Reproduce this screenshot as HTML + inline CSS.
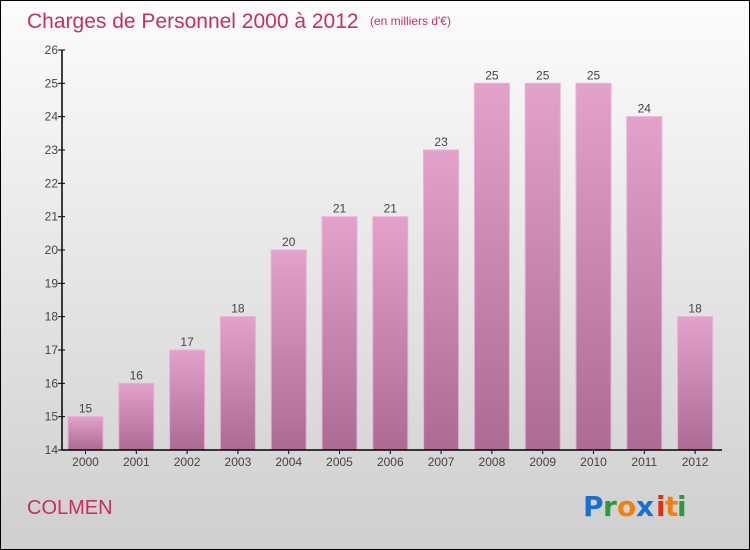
<!DOCTYPE html>
<html><head><meta charset="utf-8"><style>
body{margin:0}
#c{width:750px;height:550px;position:relative;box-sizing:border-box;border:1px solid #000;background:linear-gradient(#fcfcfc,#cfcfcf);font-family:"Liberation Sans",sans-serif;overflow:hidden}
</style></head><body>
<div id="c">
<svg width="750" height="550" style="position:absolute;left:-1px;top:-1px" id="s">
<defs><linearGradient id="bg" x1="0" y1="0" x2="0" y2="1"><stop offset="0" stop-color="#e2a2ca"/><stop offset="1" stop-color="#ab6b93"/></linearGradient></defs>
<text x="27" y="28" font-size="21" fill="#c4305f">Charges de Personnel 2000 à 2012</text>
<text x="370" y="25" font-size="12" fill="#c4305f">(en milliers d'€)</text>
<text x="27" y="514" font-size="20" fill="#c4305f">COLMEN</text>
<g font-size="28" font-weight="bold" font-family="'DejaVu Sans',sans-serif">
<text x="583" y="516" fill="#1a70d0">P</text><text x="603" y="516" fill="#2a9a3a">r</text><text x="617" y="516" fill="#f08010">o</text><text x="636" y="516" fill="#1a70d0">x</text><text x="656" y="516" fill="#e03010">i</text><text x="665" y="516" fill="#f08010">t</text><text x="677" y="516" fill="#2a9a3a">i</text></g>
<g id="plot"></g>
</svg></div>
<script>
const years=["2000","2001","2002","2003","2004","2005","2006","2007","2008","2009","2010","2011","2012"];
const values=[15,16,17,18,20,21,21,23,25,25,25,24,18];
const yTicks=[14,15,16,17,18,19,20,21,22,23,24,25,26];
const NS="http://www.w3.org/2000/svg";
const g=document.getElementById('plot');
const y0=450,y1=50,vmin=14,vmax=26,xl=62,xs=85.5,step=50.8,bw=35;
const Y=v=>y0-(v-vmin)/(vmax-vmin)*(y0-y1);
const X=i=>xs+i*step;
function mk(t,a){const e=document.createElementNS(NS,t);for(const k in a)e.setAttribute(k,a[k]);g.appendChild(e);return e;}
yTicks.forEach(v=>{
 const l=mk('line',{x1:xl-4,x2:xl+3,y1:Y(v),y2:Y(v),stroke:'#000'});
 
 
 const t=mk('text',{x:xl-4,y:Y(v)+4,'text-anchor':'end','font-size':12,fill:'#444'});t.textContent=v;
 
 
});
values.forEach((v,i)=>{
 const r=mk('rect',{x:X(i)-bw/2,y:Y(v),width:bw,height:y0-Y(v),fill:'url(#bg)',stroke:'#eab0d4','stroke-width':1});
 
 
 const t=mk('text',{x:X(i),y:Y(v)-4,'text-anchor':'middle','font-size':12,fill:'#444'});t.textContent=v;
 
 
 const k=mk('line',{x1:X(i),x2:X(i),y1:y0,y2:y0+4,stroke:'#000'});
 
 
 const xt=mk('text',{x:X(i),y:y0+16,'text-anchor':'middle','font-size':12,fill:'#444'});xt.textContent=years[i];
 
 
});
const ya=mk('line',{x1:xl,x2:xl,y1:y1,y2:y0,stroke:'#000','stroke-width':1.5});


const xa=mk('line',{x1:xl,x2:722,y1:y0,y2:y0,stroke:'#000','stroke-width':1.5});


</script>
</body></html>
